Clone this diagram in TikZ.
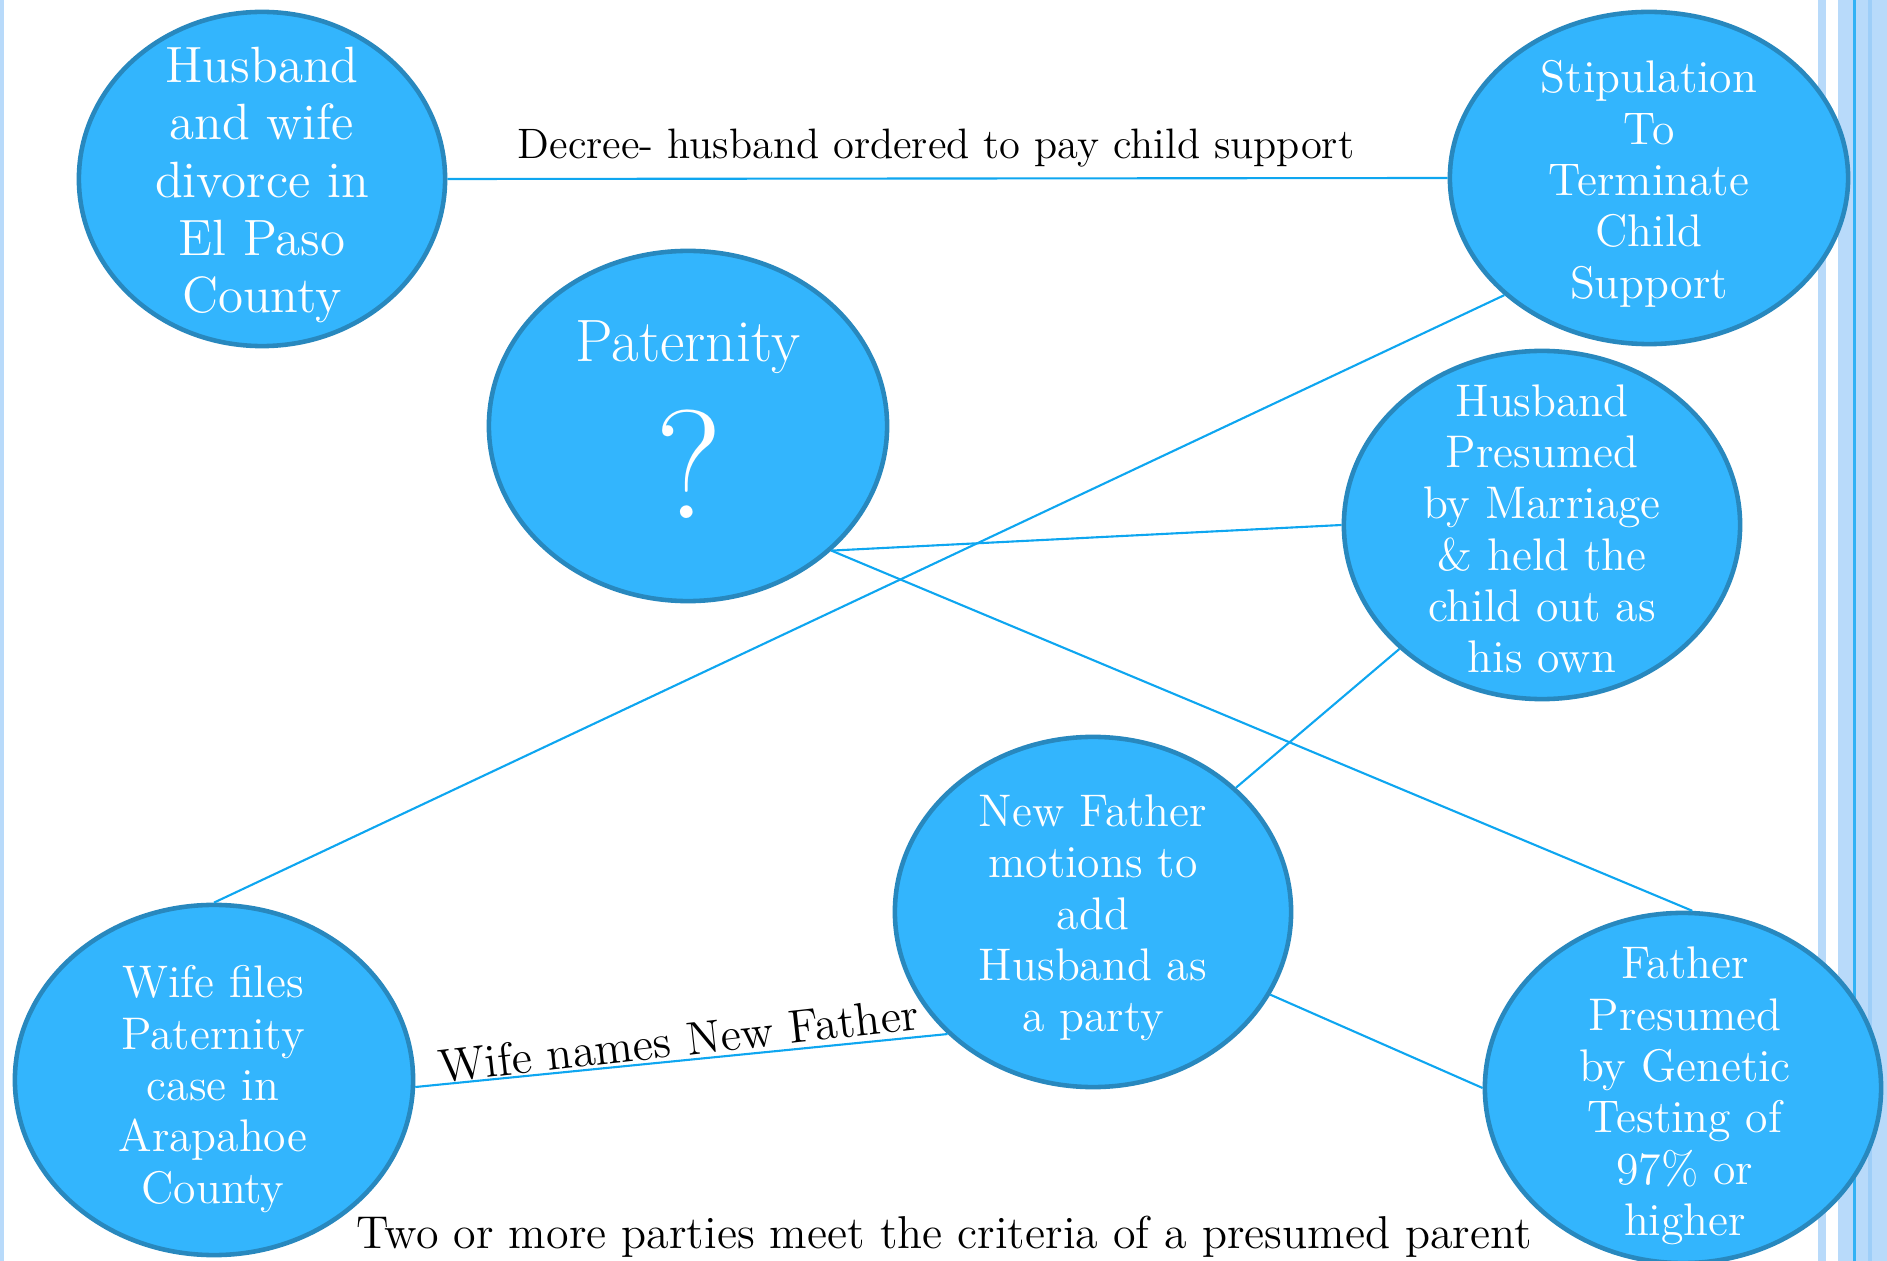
\documentclass[tikz,border=0pt]{standalone}
\usepackage{fontspec}
\usetikzlibrary{shapes.geometric}
\definecolor{bubble}{RGB}{51,181,253}
\definecolor{bubbleedge}{RGB}{40,136,190}
\definecolor{linkcol}{RGB}{14,166,240}
\definecolor{stripe}{RGB}{184,218,250}
\definecolor{stripedark}{RGB}{158,206,248}
\definecolor{stripeline}{RGB}{50,178,245}
\tikzset{
  bubble/.style={ellipse, draw=bubbleedge, line width=1.3pt, fill=bubble, inner sep=0pt},
  btext/.style={text=white, align=center, inner sep=0pt, font=\fontsize{13}{14.6}\selectfont},
  linkline/.style={draw=linkcol, line width=0.6pt},
  lbl/.style={text=black, inner sep=0pt, anchor=base},
}
\begin{document}
\begin{tikzpicture}[x=0.01cm,y=-0.01cm]
\useasboundingbox (0,0) rectangle (1887,1261);
\clip (0,0) rectangle (1887,1261);
% side stripes
\fill[stripe] (0,0) rectangle (4,1261);
\fill[stripe] (1818,0) rectangle (1826,1261);
\fill[stripe] (1838,0) rectangle (1887,1261);
\fill[stripedark] (1868,0) rectangle (1872,1261);
\fill[stripeline] (1853,0) rectangle (1855.5,1261);
% bubbles
\node[bubble, minimum width=3.66cm, minimum height=3.34cm] (hw) at (262,179) {};
\node[bubble, minimum width=3.98cm, minimum height=3.32cm] (stip) at (1649,178) {};
\node[bubble, minimum width=3.98cm, minimum height=3.50cm] (pat) at (688,426) {};
\node[bubble, minimum width=3.96cm, minimum height=3.48cm] (hp) at (1542,525) {};
\node[bubble, minimum width=3.96cm, minimum height=3.50cm] (nf) at (1093,912) {};
\node[bubble, minimum width=3.98cm, minimum height=3.50cm] (wife) at (214,1080) {};
\node[bubble, minimum width=3.96cm, minimum height=3.50cm] (fp) at (1683,1088) {};
% connectors
\draw[linkline] (hw.east) -- (stip.west);
\draw[linkline] (stip.219) -- (wife.north);
\draw[linkline] (pat.-41) -- (hp.west);
\draw[linkline] (pat.-41) -- (fp.87);
\draw[linkline] (hp.221) -- (nf.41);
\draw[linkline] (nf.-25) -- (fp.west);
\draw[linkline] (wife.-2) -- (nf.220);
% bubble texts
\node[btext, font=\fontsize{14.5}{16.4}\selectfont] (hwt) at (262,185) {Husband\\and wife\\divorce in\\El Paso\\County};
\node[btext] (stipt) at (1649,184) {Stipulation\\To\\Terminate\\Child\\Support};
\node[text=white, anchor=base, inner sep=0pt, font=\fontsize{17}{19}\selectfont] (patt) at (688,362) {Paternity};
\node[text=white, anchor=base, inner sep=0pt, font=\fontsize{44}{48}\selectfont] (patq) at (689,519) {?};
\node[btext] (hpt) at (1542,529) {Husband\\Presumed\\by Marriage\\\& held the\\child out as\\his own};
\node[btext] (nft) at (1093,918) {New Father\\motions to\\add\\Husband as\\a party};
\node[btext] (wifet) at (213,1089) {Wife files\\Paternity\\case in\\Arapahoe\\County};
\node[btext] (fpt) at (1685,1096) {Father\\Presumed\\by Genetic\\Testing of\\97\% or\\higher};
% labels
\node[lbl, font=\fontsize{12.1}{14}\selectfont] (decree) at (936,159) {Decree- husband ordered to pay child support};
\node[lbl, rotate=6.4, font=\fontsize{13.3}{15}\selectfont] (wlabel) at (680,1056) {Wife names New Father};
\node[lbl, font=\fontsize{13.1}{15}\selectfont] (bottom) at (944,1248) {Two or more parties meet the criteria of a presumed parent};
\end{tikzpicture}
\end{document}
